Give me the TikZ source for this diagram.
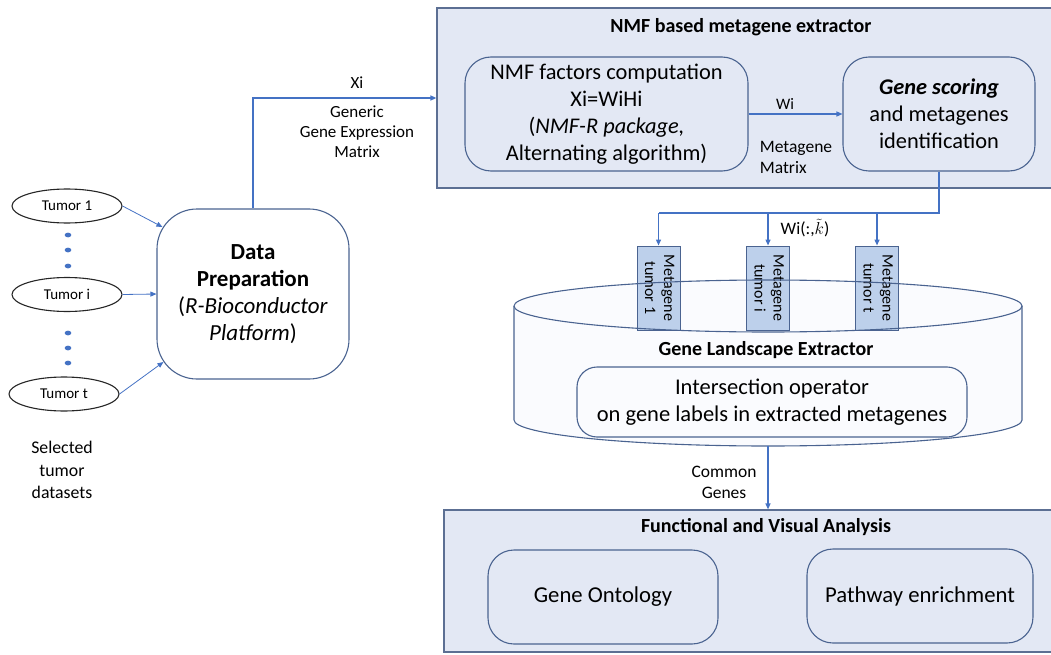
\documentclass[tikz,border=0pt]{standalone}
\usepackage{fontspec}
\setmainfont{Carlito}
\usetikzlibrary{arrows.meta,positioning,shapes.geometric}
\definecolor{panelfill}{HTML}{E3E8F4}
\definecolor{paneledge}{HTML}{5C6F93}
\definecolor{boxedge}{HTML}{4A6390}
\definecolor{wireblue}{HTML}{4472C4}
\definecolor{mgfill}{HTML}{BDD0EB}
\definecolor{cylfill}{HTML}{FAFBFE}
\newcommand{\fs}[2]{\fontsize{#1}{#2}\selectfont}

\begin{document}
\begin{tikzpicture}[x=1pt, y=-1pt, line width=1pt, >={Triangle[length=6pt,width=5pt]},
  panel/.style={draw=paneledge, fill=panelfill, line width=1.2pt, inner sep=0pt},
  stage/.style={draw=boxedge, line width=1.1pt, rounded corners=26pt, align=center, inner sep=0pt},
  tumor/.style={ellipse, draw=black!85, line width=1.1pt, minimum width=110pt, minimum height=34pt, inner sep=0pt, font=\fs{15}{17}},
  mgbox/.style={draw=boxedge, fill=mgfill, line width=1pt, minimum width=43pt, minimum height=84pt, inner sep=0pt, font=\fs{16}{19}},
  wire/.style={draw=wireblue, line width=1.2pt},
  feed/.style={draw=wireblue, line width=0.8pt},
  cyl/.style={draw=boxedge, line width=1.1pt},
  lbl/.style={align=center, inner sep=0pt},
  heading/.style={font=\bfseries\fs{20}{23}, inner sep=0pt}]
  \useasboundingbox (0,0) rectangle (1051,655);

  % NMF panel
  \node[panel, minimum width=616pt, minimum height=180pt] (nmf) at (745,98) {};
  \node[heading] (nmftitle) at (741,27) {NMF based metagene extractor};
  \node[stage, minimum width=283pt, minimum height=114pt, font=\fs{22.4}{27}] (fact) at (606.5,114)
    {NMF factors computation\\Xi=WiHi\\(\textit{NMF-R package,}\\Alternating algorithm)};
  \node[stage, minimum width=192pt, minimum height=114pt, font=\fs{22.4}{27}] (score) at (939,114)
    {\textbf{\textit{Gene scoring}}\\and metagenes\\identification};
  \draw[wire,->] (fact) -- (score);
  \node[lbl, font=\fs{16}{18}] (wi) at (785,104) {Wi};
  \node[lbl, align=left, font=\fs{17.5}{21}] (mgmat) at (796,157) {Metagene\\Matrix};

  % tumors and data preparation
  \node[tumor] (t1) at (67,206) {Tumor 1};
  \node[tumor] (ti) at (67,294.5) {Tumor i};
  \node[tumor] (tt) at (64,394) {Tumor t};
  \foreach \y in {235,250,266,333,348,363}
    \fill[wireblue] (68,\y) ellipse [x radius=3.3pt, y radius=2.4pt];
  \node[stage, rounded corners=40pt, minimum width=192pt, minimum height=170pt, font=\fs{23}{27}] (prep) at (253,294)
    {\textbf{Data}\\\textbf{Preparation}\\(\textit{R-Bioconductor}\\\textit{Platform})};
  \draw[feed,->] (t1.east) -- ([xshift=6pt,yshift=67pt]prep.west);
  \draw[feed,->] (ti.east) -- (prep.west);
  \draw[feed,->] (tt.east) -- ([xshift=7pt,yshift=-68pt]prep.west);
  \node[lbl, font=\fs{17.8}{22.5}] (sel) at (62,470) {Selected\\tumor\\datasets};

  \draw[wire,->] (prep.north) |- (nmf.west);
  \node[lbl, font=\fs{17}{20}] (xi) at (357,83) {Xi};
  \node[lbl, font=\fs{17}{20}] (gem) at (357,132) {Generic\\Gene Expression\\Matrix};

  % gene landscape cylinder
  \path[fill=cylfill] (514,306) -- (514,420) arc[start angle=180, end angle=360, x radius=254pt, y radius=26pt]
    -- (1022,306) arc[start angle=0, end angle=180, x radius=254pt, y radius=26pt] -- cycle;
  \draw[cyl] (514,306) -- (514,420) arc[start angle=180, end angle=360, x radius=254pt, y radius=26pt] -- (1022,306);
  \coordinate (cylbot) at (768,446);

  \node[mgbox] (mg1) at (658.5,288) {\rotatebox{-90}{\begin{tabular}{@{}c@{}}Metagene\\tumor 1\end{tabular}}};
  \node[mgbox] (mgi) at (768,288) {\rotatebox{-90}{\begin{tabular}{@{}c@{}}Metagene\\tumor i\end{tabular}}};
  \node[mgbox] (mgt) at (877,288) {\rotatebox{-90}{\begin{tabular}{@{}c@{}}Metagene\\tumor t\end{tabular}}};
  \draw[cyl] (768,306) ellipse [x radius=254pt, y radius=26pt];

  \coordinate (bus) at (939,213);
  \draw[wire, line width=1.6pt] (score.south) |- (mg1.north |- bus);
  \foreach \m in {mg1,mgi,mgt}
    \draw[wire, line width=1.4pt, ->] (\m.north |- bus) -- (\m.north);
  \node[lbl, font=\fs{17.5}{20}] (wik) at (805,228) {Wi(:,$\tilde{k}$)};

  \node[heading] (glx) at (766,350) {Gene Landscape Extractor};
  \node[stage, rounded corners=20pt, minimum width=390pt, minimum height=70pt, font=\fs{22.5}{27}] (inter) at (772,402)
    {Intersection operator\\on gene labels in extracted metagenes};

  % functional and visual analysis
  \node[panel, minimum width=610pt, minimum height=142pt] (fva) at (749,581) {};
  \draw[wire,->] (cylbot) -- (fva.north -| cylbot);
  \node[lbl, font=\fs{17.5}{21}] (common) at (724,482) {Common\\Genes};
  \node[heading] (fvatitle) at (766,527) {Functional and Visual Analysis};
  \node[stage, minimum width=230pt, minimum height=94pt, font=\fs{22.7}{27}] (onto) at (603,597) {Gene Ontology};
  \node[stage, minimum width=226pt, minimum height=94pt, font=\fs{22.7}{27}] (pathway) at (920,596) {Pathway enrichment};
\end{tikzpicture}
\end{document}
